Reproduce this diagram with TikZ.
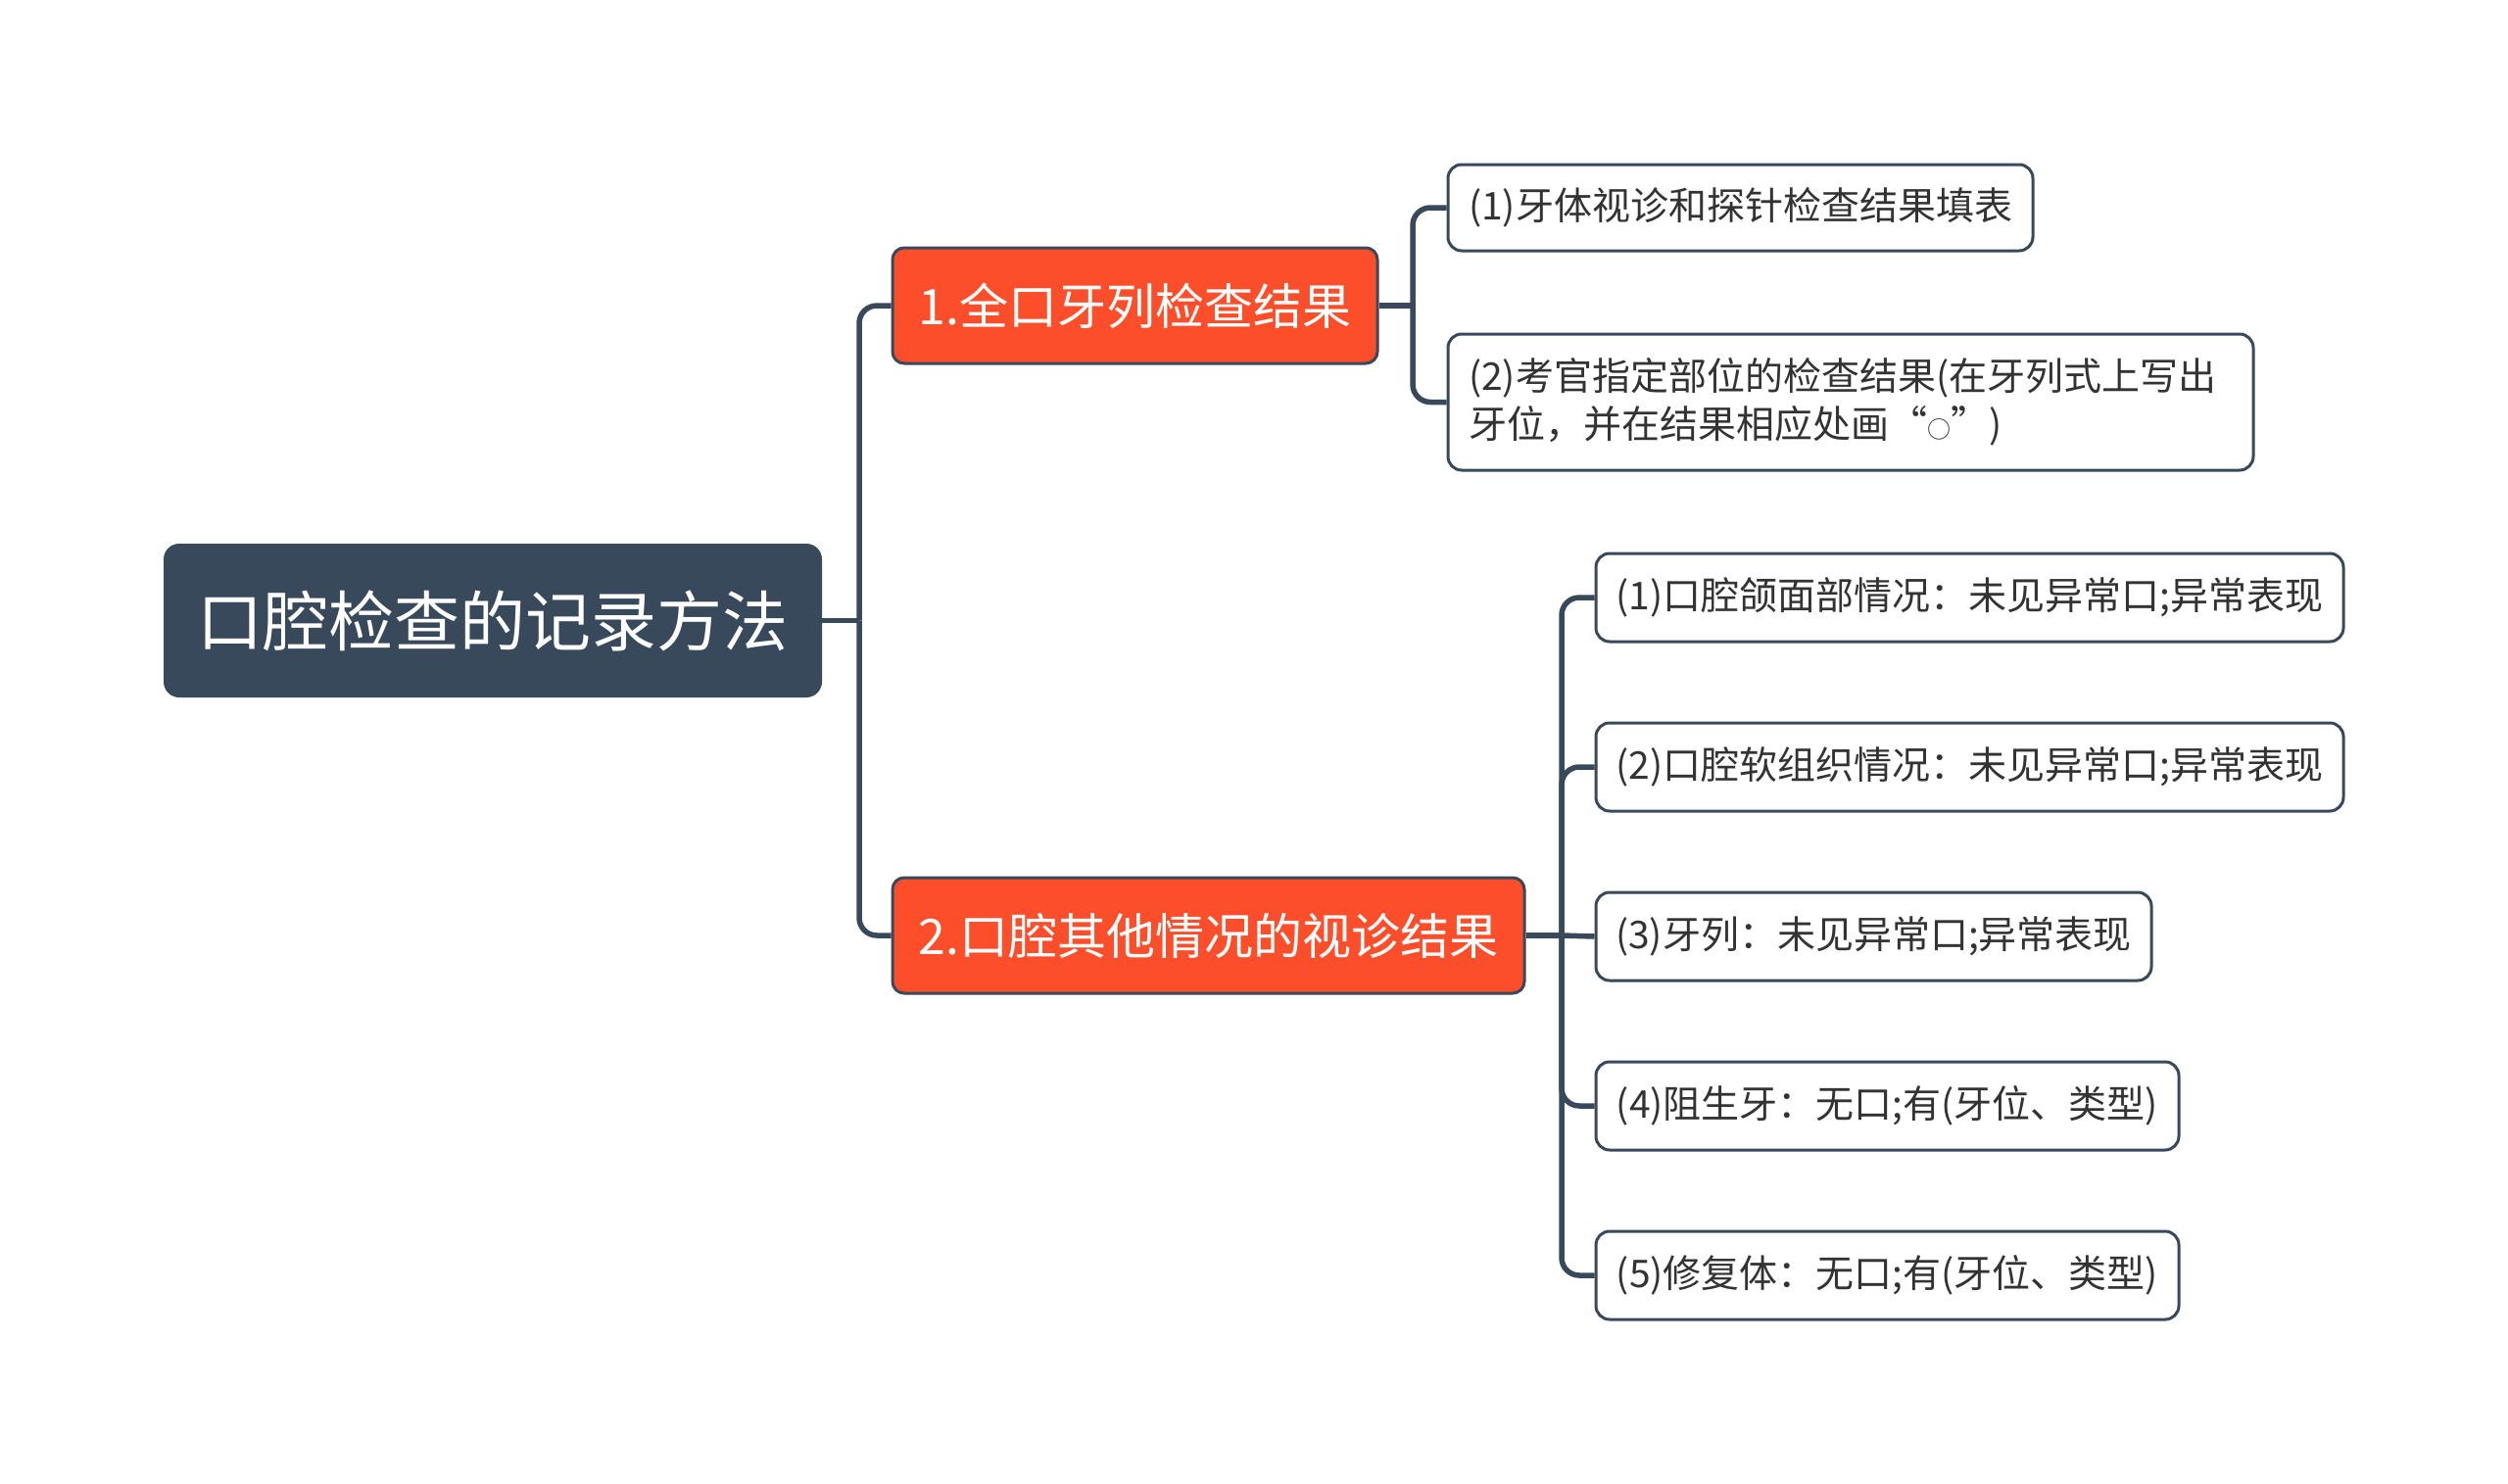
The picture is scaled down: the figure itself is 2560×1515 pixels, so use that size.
\documentclass[tikz,border=0pt]{standalone}
\usepackage{fontspec}
\setmainfont{Noto Sans CJK SC}
\definecolor{rootc}{HTML}{37495B}
\definecolor{branchc}{HTML}{FC4E2A}
\definecolor{leaftxt}{HTML}{333333}
\begin{document}
\begin{tikzpicture}[x=1pt,y=-1pt,
  rootbox/.style={fill=rootc, rounded corners=16pt, text=white, inner sep=0pt,
    font=\fontsize{67}{80}\selectfont},
  branchbox/.style={fill=branchc, draw=rootc, line width=3pt, rounded corners=12pt, text=white, inner sep=0pt,
    font=\fontsize{50}{60}\selectfont},
  leafbox/.style={fill=white, draw=rootc, line width=3pt, rounded corners=14pt, text=leaftxt, inner sep=0pt,
    font=\fontsize{39}{49}\selectfont},
  conn/.style={draw=rootc, line width=5.5pt},
]
\useasboundingbox (0,0) rectangle (2560,1515);
\fill[white] (0,0) rectangle (2560,1515);

\node[rootbox, minimum width=672pt, minimum height=157pt] (root) at (503,633.5) {口腔检查的记录方法};

\node[branchbox, minimum width=495pt, minimum height=118pt] (b1) at (1158.5,312) {1.全口牙列检查结果};
\node[branchbox, minimum width=645pt, minimum height=118pt] (b2) at (1233.5,955) {2.口腔其他情况的视诊结果};

\node[leafbox, minimum width=597pt, minimum height=88pt] (l11) at (1776.5,212) {(1)牙体视诊和探针检查结果填表};
\node[leafbox, minimum width=822pt, minimum height=139pt, text width=780pt, align=left] (l12) at (1889,410.5) {(2)考官指定部位的检查结果(在牙列式上写出\\牙位，并在结果相应处画“{\fontsize{24}{24}\selectfont ○}”)};

\node[leafbox, minimum width=763pt, minimum height=90pt] (l21) at (2010.5,610) {(1)口腔颌面部情况：未见异常口;异常表现};
\node[leafbox, minimum width=763pt, minimum height=90pt] (l22) at (2010.5,783) {(2)口腔软组织情况：未见异常口;异常表现};
\node[leafbox, minimum width=567pt, minimum height=90pt] (l23) at (1912.5,956) {(3)牙列：未见异常口;异常表现};
\node[leafbox, minimum width=595pt, minimum height=90pt] (l24) at (1926.5,1129) {(4)阻生牙：无口;有(牙位、类型)};
\node[leafbox, minimum width=595pt, minimum height=90pt] (l25) at (1926.5,1302) {(5)修复体：无口;有(牙位、类型)};

% connectors
\coordinate (j0) at (877,633.5);
\coordinate (j1) at (1442,312);
\coordinate (j2) at (1594,955);
\draw[conn] (root.east) -- (j0);
\draw[conn, rounded corners=18pt] (j0) |- (b1.west);
\draw[conn, rounded corners=18pt] (j0) |- (b2.west);
\draw[conn] (b1.east) -- (j1);
\draw[conn, rounded corners=18pt] (j1) |- (l11.west);
\draw[conn, rounded corners=18pt] (j1) |- (l12.west);
\draw[conn] (b2.east) -- (j2);
\draw[conn, rounded corners=18pt] (j2) |- (l21.west);
\draw[conn, rounded corners=18pt] (j2) |- (l22.west);
\draw[conn] (j2) -- (l23.west);
\draw[conn, rounded corners=18pt] (j2) |- (l24.west);
\draw[conn, rounded corners=18pt] (j2) |- (l25.west);
\end{tikzpicture}
\end{document}
